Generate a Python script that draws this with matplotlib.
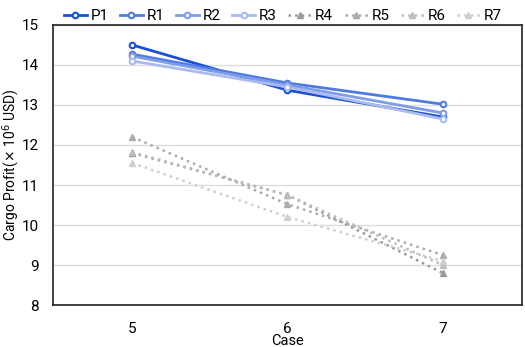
import matplotlib
matplotlib.use("Agg")
import matplotlib.pyplot as plt

plt.rcParams['font.family'] = ['Roboto', 'DejaVu Sans']

cases = [5, 6, 7]
series_names = ["P1", "R1", "R2", "R3", "R4", "R5", "R6", "R7"]
P1 = [14.50, 13.37, 12.70]
R1 = [14.27, 13.55, 13.02]
R2 = [14.22, 13.50, 12.80]
R3 = [14.10, 13.45, 12.65]
R4 = [11.80, 10.75, 8.80]
R5 = [12.20, 10.52, 9.25]
R6 = [11.82, 10.75, 9.00]
R7 = [11.55, 10.20, 9.10]
y_ticks = [8, 9, 10, 11, 12, 13, 14, 15]

values = [P1, R1, R2, R3, R4, R5, R6, R7]
colors = ["#1a4fd8", "#4f7be0", "#7d9ce9", "#a9bbf0",
          "#9a9a9a", "#ababab", "#bdbdbd", "#cfcfcf"]

fig = plt.figure(figsize=(5.25, 3.47), dpi=100)
ax = fig.add_axes([0.101, 0.121, 0.893, 0.807])

for name, vals, c in zip(series_names, values, colors):
    if name in ("P1", "R1", "R2", "R3"):
        ax.plot(cases, vals, color=c, lw=2, marker='o', ms=4,
                mfc='white', mec=c, mew=1.5, label=name)
    else:
        ax.plot(cases, vals, color=c, lw=1.8, ls=':', marker='^', ms=4,
                mfc=c, mec=c, label=name)

ax.set_xlim(4.49, 7.51)
ax.set_ylim(8, 15)
ax.set_xticks(cases)
ax.set_yticks(y_ticks)
ax.tick_params(length=0, labelsize=11)
ax.tick_params(axis='x', pad=12)
ax.tick_params(axis='y', pad=10)
ax.grid(axis='y', color='#dddddd', lw=1)
ax.set_axisbelow(True)
for s in ax.spines.values():
    s.set_color('#222222')
    s.set_linewidth(1.2)
ax.set_xlabel("Case", fontsize=10.5, labelpad=-1)
ax.set_ylabel(r"Cargo Profit($\times$ 10$^6$ USD)", fontsize=10)
ax.yaxis.set_label_coords(-0.067, 0.5)

ax.legend(loc='lower center', bbox_to_anchor=(0.49, 0.985), ncol=8,
          frameon=False, fontsize=11, handlelength=1.5, handletextpad=0.25,
          columnspacing=0.75, borderaxespad=0)

fig.savefig("out.png", dpi=100)
